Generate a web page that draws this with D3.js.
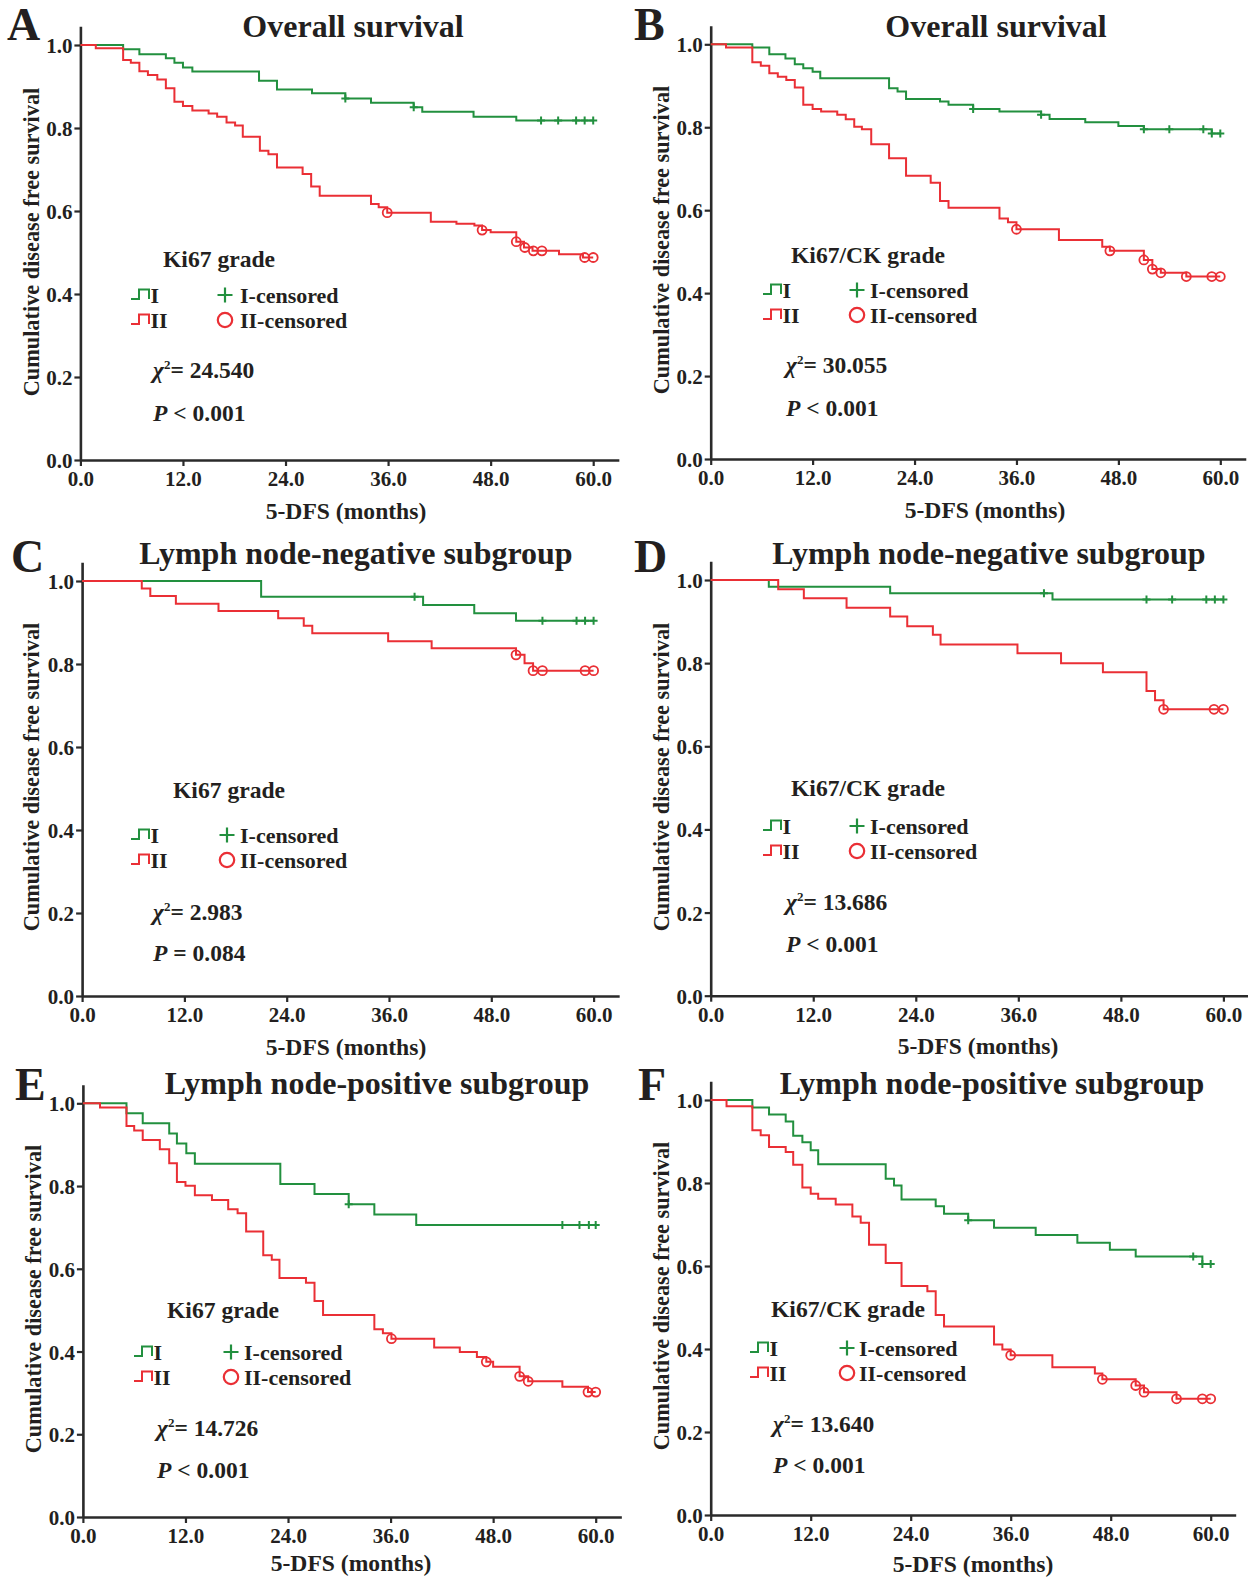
<!DOCTYPE html>
<html>
<head>
<meta charset="utf-8">
<script src="https://cdn.jsdelivr.net/npm/d3@7"></script>
<style>
  body { margin: 0; background: #fff; }
  text { font-family: "Liberation Serif", "Times New Roman", serif; font-weight: bold; fill: #231f20; }
</style>
</head>
<body>
<script>
'use strict';

// ---- data ----
const xTicks = [0, 12, 24, 36, 48, 60];
const yTicks = [0, 0.2, 0.4, 0.6, 0.8, 1.0];
const panelLetters = ['A', 'B', 'C', 'D', 'E', 'F'];
const panelTitles = ['Overall survival', 'Overall survival', 'Lymph node-negative subgroup',
  'Lymph node-negative subgroup', 'Lymph node-positive subgroup', 'Lymph node-positive subgroup'];
const gradeLabels = ['Ki67 grade', 'Ki67/CK grade', 'Ki67 grade', 'Ki67/CK grade', 'Ki67 grade', 'Ki67/CK grade'];
const chiValues = ['24.540', '30.055', '2.983', '13.686', '14.726', '13.640'];
const pTexts = ['< 0.001', '< 0.001', '= 0.084', '< 0.001', '< 0.001', '< 0.001'];

// steps: [month, survival after event]; censored: months
const stepsA1 = [[5.0,0.990],[6.9,0.978],[10.0,0.968],[11.0,0.957],[12.0,0.946],[13.1,0.936],[20.9,0.914],[23.0,0.893],[27.1,0.884],[31.0,0.871],[34.0,0.861],[39.0,0.850],[40.0,0.839],[46.0,0.827],[51.0,0.818]];
const censA1 = [31.0, 39.0, 53.9, 55.9, 58.0, 59.0, 60.0];
const stepsA2 = [[1.8,0.992],[5.0,0.964],[5.9,0.957],[6.9,0.937],[7.9,0.928],[9.0,0.917],[10.0,0.896],[11.0,0.863],[12.0,0.853],[13.1,0.842],[15.0,0.835],[16.0,0.827],[17.1,0.813],[18.1,0.806],[19.0,0.779],[21.0,0.745],[22.0,0.737],[23.0,0.705],[26.0,0.689],[27.0,0.659],[28.0,0.637],[34.0,0.617],[34.9,0.609],[35.9,0.596],[41.0,0.574],[44.0,0.569],[46.1,0.565],[47.0,0.554],[48.0,0.549],[51.0,0.526],[51.9,0.512],[52.9,0.504],[56.0,0.496],[58.8,0.488]];
const censA2 = [35.9, 47.0, 51.0, 52.0, 53.0, 54.0, 59.0, 60.0];

const stepsB1 = [[4.9,0.992],[6.9,0.976],[8.8,0.966],[9.9,0.952],[10.9,0.942],[12.0,0.934],[12.9,0.918],[21.0,0.894],[22.0,0.886],[23.0,0.868],[27.0,0.862],[28.0,0.854],[30.9,0.844],[34.0,0.838],[38.9,0.830],[39.9,0.820],[44.1,0.812],[48.0,0.803],[51.0,0.795],[59.0,0.785]];
const censB1 = [30.9, 38.9, 51.0, 54.0, 58.0, 59.0, 60.0];
const stepsB2 = [[1.8,0.992],[4.9,0.957],[5.9,0.948],[6.9,0.930],[7.9,0.922],[8.9,0.914],[9.9,0.896],[10.9,0.854],[12.0,0.844],[13.0,0.838],[14.9,0.830],[15.9,0.819],[16.9,0.801],[17.8,0.795],[18.9,0.759],[21.0,0.725],[23.0,0.683],[25.9,0.666],[27.0,0.622],[28.0,0.606],[34.0,0.580],[35.0,0.571],[36.0,0.554],[41.0,0.528],[46.1,0.512],[47.0,0.502],[51.0,0.480],[52.0,0.458],[53.0,0.449],[56.0,0.440]];
const censB2 = [36.0, 47.0, 51.0, 52.0, 53.0, 56.0, 59.0, 60.0];

const stepsC1 = [[21.0,0.962],[40.0,0.942],[46.0,0.922],[50.9,0.904]];
const censC1 = [39.0, 54.0, 58.0, 59.0, 60.0];
const stepsC2 = [[7.0,0.982],[8.0,0.964],[11.0,0.945],[16.0,0.928],[23.0,0.910],[26.0,0.892],[27.0,0.874],[35.9,0.855],[41.0,0.838],[50.9,0.822],[51.9,0.802],[52.9,0.784]];
const censC2 = [50.9, 52.9, 54.0, 59.0, 60.0];

const stepsD1 = [[6.8,0.984],[21.0,0.968],[40.0,0.953]];
const censD1 = [39.0, 51.0, 54.0, 58.0, 59.0, 60.0];
const stepsD2 = [[7.9,0.978],[10.9,0.956],[15.9,0.933],[21.0,0.912],[23.0,0.889],[26.0,0.868],[26.9,0.845],[35.9,0.824],[41.0,0.800],[45.9,0.778],[51.0,0.733],[52.0,0.711],[53.0,0.689]];
const censD2 = [53.0, 58.9, 60.0];

const stepsE1 = [[5.1,0.976],[7.0,0.952],[10.1,0.927],[11.0,0.903],[12.1,0.879],[13.1,0.854],[23.1,0.805],[27.1,0.781],[31.1,0.756],[34.1,0.731],[39.0,0.706]];
const censE1 = [31.1, 56.1, 58.1, 59.2, 60.0];
const stepsE2 = [[2.0,0.990],[5.1,0.945],[6.0,0.934],[7.0,0.911],[9.0,0.889],[10.1,0.855],[11.0,0.810],[12.0,0.801],[13.1,0.778],[15.1,0.766],[17.0,0.744],[18.1,0.734],[19.1,0.690],[21.1,0.633],[22.1,0.622],[23.0,0.578],[26.1,0.566],[27.1,0.522],[28.1,0.488],[34.1,0.454],[35.1,0.444],[36.1,0.431],[41.1,0.410],[44.1,0.399],[46.1,0.387],[47.2,0.375],[48.0,0.363],[51.1,0.340],[52.1,0.328],[56.1,0.315],[59.1,0.302]];
const censE2 = [36.1, 47.2, 51.1, 52.1, 59.1, 60.0];

const stepsF1 = [[5.0,0.982],[7.0,0.965],[9.0,0.948],[9.9,0.914],[11.0,0.898],[12.0,0.879],[12.9,0.845],[21.0,0.810],[22.0,0.794],[22.9,0.760],[27.0,0.744],[28.0,0.726],[30.9,0.710],[34.0,0.692],[39.0,0.675],[44.0,0.656],[47.9,0.639],[51.0,0.623],[59.0,0.605]];
const censF1 = [30.9, 57.9, 59.0, 60.0];
const stepsF2 = [[1.9,0.985],[5.0,0.927],[6.0,0.915],[7.0,0.887],[9.0,0.875],[9.9,0.844],[11.0,0.789],[12.0,0.774],[12.9,0.762],[15.0,0.748],[17.0,0.719],[18.0,0.704],[19.0,0.651],[21.0,0.607],[22.9,0.552],[26.0,0.539],[27.0,0.482],[28.0,0.454],[34.0,0.411],[35.0,0.399],[36.0,0.385],[41.0,0.356],[46.1,0.341],[47.0,0.327],[51.0,0.312],[52.0,0.296],[55.9,0.280]];
const censF2 = [36.0, 47.0, 51.0, 52.0, 55.9, 59.0, 60.0];

const groupSteps = [[stepsA1, stepsA2], [stepsB1, stepsB2], [stepsC1, stepsC2], [stepsD1, stepsD2], [stepsE1, stepsE2], [stepsF1, stepsF2]];
const groupCens = [[censA1, censA2], [censB1, censB2], [censC1, censC2], [censD1, censD2], [censE1, censE2], [censF1, censF2]];

// ---- layout (pixel positions of each panel) ----
const layouts = [
  { left: 80.4, x60: 593.2, top: 45, bottom: 460, letter: [7, 40], title: [353, 37], ylab: [31, 242], xlab: [346, 519],
    leg: { gradeX: 163, gradeY: 267, iconX: 131, row1: 295, row2: 320, markX: 225, text2X: 240, statX: 153, chiY: 378, pY: 421 } },
  { left: 710.7, x60: 1220.3, top: 44.3, bottom: 459, letter: [634, 40], title: [996, 37], ylab: [661, 240], xlab: [985, 518],
    leg: { gradeX: 791, gradeY: 263, iconX: 763, row1: 290, row2: 315, markX: 857, text2X: 870, statX: 786, chiY: 373, pY: 416 } },
  { left: 82.1, x60: 593.6, top: 581, bottom: 996, letter: [11, 572], title: [356, 564], ylab: [31, 777], xlab: [346, 1055],
    leg: { gradeX: 173, gradeY: 798, iconX: 131, row1: 835, row2: 860, markX: 227, text2X: 240, statX: 153, chiY: 920, pY: 961 } },
  { left: 710.7, x60: 1223.4, top: 580, bottom: 995.7, letter: [634, 572], title: [989, 564], ylab: [661, 777], xlab: [978, 1054],
    leg: { gradeX: 791, gradeY: 796, iconX: 763, row1: 826, row2: 851, markX: 857, text2X: 870, statX: 786, chiY: 910, pY: 952 } },
  { left: 82.9, x60: 595.7, top: 1103.3, bottom: 1517, letter: [15, 1100], title: [377, 1094], ylab: [33, 1299], xlab: [351, 1571],
    leg: { gradeX: 167, gradeY: 1318, iconX: 134, row1: 1352, row2: 1377, markX: 231, text2X: 244, statX: 157, chiY: 1436, pY: 1478 } },
  { left: 710.7, x60: 1210.7, top: 1100, bottom: 1515, letter: [638, 1100], title: [992, 1094], ylab: [661, 1296], xlab: [973, 1572],
    leg: { gradeX: 771, gradeY: 1317, iconX: 750, row1: 1348, row2: 1373, markX: 847, text2X: 859, statX: 773, chiY: 1432, pY: 1473 } }
];

const colors = ['#22903f', '#ea2f35'];
const axisColor = '#2a2a2a';

const svg = d3.select('body').append('svg')
  .attr('width', 1248)
  .attr('height', 1579)
  .style('display', 'block');

svg.append('rect').attr('width', 1248).attr('height', 1579).attr('fill', '#fff');

// survival value at time t from a step list
function survAt(steps, t) {
  let s = 1;
  steps.forEach(function(d) { if (d[0] <= t + 1e-9) s = d[1]; });
  return s;
}

function drawPanel(i) {
  const p = layouts[i];
  const g = svg.append('g');

  // scales: x axis line runs a bit past 60 months, y axis a bit past 1.0
  const xEnd = 63;
  const x = d3.scaleLinear().domain([0, 60]).range([p.left, p.x60]);
  const y = d3.scaleLinear().domain([0, 1]).range([p.bottom, p.top]);
  const xAxisScale = x.copy().domain([0, xEnd]).range([p.left, x(xEnd)]);
  const yAxisScale = y.copy().domain([0, 1.045]).range([p.bottom, y(1.045)]);

  const xAxis = g.append('g')
    .attr('transform', 'translate(0,' + p.bottom + ')')
    .call(d3.axisBottom(xAxisScale).tickValues(xTicks).tickFormat(d3.format('.1f')).tickSizeInner(6).tickSizeOuter(0).tickPadding(5));
  const yAxis = g.append('g')
    .attr('transform', 'translate(' + p.left + ',0)')
    .call(d3.axisLeft(yAxisScale).tickValues(yTicks).tickFormat(d3.format('.1f')).tickSizeInner(6).tickSizeOuter(0).tickPadding(2));

  [xAxis, yAxis].forEach(function(a) {
    a.select('.domain').attr('stroke', axisColor).attr('stroke-width', 2.6);
    a.selectAll('.tick line').attr('stroke', axisColor).attr('stroke-width', 2.2);
    a.selectAll('.tick text')
      .style('font-family', '"Liberation Serif", "Times New Roman", serif')
      .style('font-weight', 'bold')
      .style('font-size', '21px')
      .attr('fill', '#231f20');
  });
  yAxis.selectAll('.tick text').attr('dy', '0.36em');

  // KM curves, group I first so group II sits on top
  const line = d3.line()
    .x(function(d) { return x(d[0]); })
    .y(function(d) { return y(d[1]); })
    .curve(d3.curveStepAfter);

  [0, 1].forEach(function(k) {
    const steps = groupSteps[i][k];
    const cens = groupCens[i][k];
    const end = Math.max(steps[steps.length - 1][0], d3.max(cens));
    const pts = [[0, 1]].concat(steps).concat([[end, steps[steps.length - 1][1]]]);
    g.append('path')
      .attr('d', line(pts))
      .attr('fill', 'none')
      .attr('stroke', colors[k])
      .attr('stroke-width', 2);

    const marks = g.selectAll(null).data(cens).enter();
    if (k === 0) {
      marks.append('path')
        .attr('transform', function(t) { return 'translate(' + x(t) + ',' + y(survAt(steps, t)) + ')'; })
        .attr('d', 'M-4,0H4M0,-4V4')
        .attr('stroke', colors[0])
        .attr('stroke-width', 2);
    } else {
      marks.append('circle')
        .attr('cx', function(t) { return x(t); })
        .attr('cy', function(t) { return y(survAt(steps, t)); })
        .attr('r', 4.5)
        .attr('fill', 'none')
        .attr('stroke', colors[1])
        .attr('stroke-width', 1.8);
    }
  });

  // panel letter and title
  g.append('text').attr('x', p.letter[0]).attr('y', p.letter[1])
    .style('font-size', '46px').text(panelLetters[i]);
  g.append('text').attr('x', p.title[0]).attr('y', p.title[1])
    .attr('text-anchor', 'middle').style('font-size', '32px').text(panelTitles[i]);

  // axis labels
  g.append('text')
    .attr('transform', 'translate(' + p.ylab[0] + ',' + p.ylab[1] + ')rotate(-90)')
    .attr('text-anchor', 'middle').attr('dy', '0.35em')
    .style('font-size', '22.3px').text('Cumulative disease free survival');
  g.append('text').attr('x', p.xlab[0]).attr('y', p.xlab[1])
    .attr('text-anchor', 'middle').style('font-size', '23.6px').text('5-DFS (months)');

  // legend
  const L = p.leg;
  g.append('text').attr('x', L.gradeX).attr('y', L.gradeY)
    .style('font-size', '23.6px').text(gradeLabels[i]);

  [L.row1, L.row2].forEach(function(ry, k) {
    g.append('path')
      .attr('d', 'M' + L.iconX + ',' + (ry + 4) + 'h8v-9.5h10v9.5')
      .attr('fill', 'none').attr('stroke', colors[k]).attr('stroke-width', 2);
    g.append('text').attr('x', L.iconX + 19.5).attr('y', ry).attr('dy', '0.35em')
      .style('font-size', '22px').text(k === 0 ? 'I' : 'II');
    g.append('text').attr('x', L.text2X).attr('y', ry).attr('dy', '0.35em')
      .style('font-size', '22px').text(k === 0 ? 'I-censored' : 'II-censored');
  });
  g.append('path')
    .attr('transform', 'translate(' + L.markX + ',' + L.row1 + ')')
    .attr('d', 'M-7.5,0H7.5M0,-7.5V7.5')
    .attr('stroke', colors[0]).attr('stroke-width', 2.2);
  g.append('circle').attr('cx', L.markX).attr('cy', L.row2).attr('r', 7.2)
    .attr('fill', 'none').attr('stroke', colors[1]).attr('stroke-width', 2.2);

  // test statistics
  const chi = g.append('text').attr('x', L.statX).attr('y', L.chiY).style('font-size', '23.5px');
  chi.append('tspan').style('font-style', 'italic').text('χ');
  chi.append('tspan').attr('dy', -9).style('font-size', '13px').text('2');
  chi.append('tspan').attr('dy', 9).text('= ' + chiValues[i]);

  const pt = g.append('text').attr('x', L.statX).attr('y', L.pY).style('font-size', '23.5px');
  pt.append('tspan').style('font-style', 'italic').text('P');
  pt.append('tspan').text(' ' + pTexts[i]);
}

d3.range(6).forEach(drawPanel);
</script>
</body>
</html>
